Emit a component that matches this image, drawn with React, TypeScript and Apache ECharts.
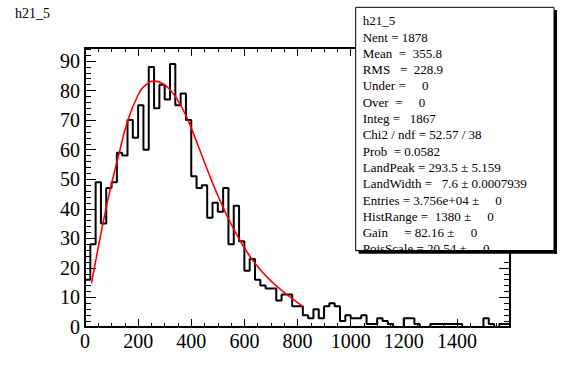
import React, { useEffect, useRef } from "react";
import * as echarts from "echarts";

const binWidth = 20;
const counts = [
  16, 28, 49, 35, 47, 49, 59, 58, 70, 64,
  75, 60, 88, 74, 82, 77, 89, 75, 79, 70,
  51, 47, 48, 37, 42, 39, 47, 28, 41, 29,
  19, 23, 16, 14, 13, 13, 9, 11, 11, 7,
  7, 4, 3, 6, 3, 7, 8, 7, 2, 4,
  3, 3, 4, 1, 1, 3, 2, 1, 0, 0,
  3, 3, 1, 0, 0, 1, 1, 1, 1, 1,
  1, 0, 0, 0, 0, 3, 1, 0, 1, 1,
];

const fitX = [24, 48, 72, 100, 125, 160, 200, 230, 260, 290, 320, 350, 380, 410, 440, 470, 500, 540, 580, 620, 660, 700, 740, 780, 820];
const fitY = [14.8, 26, 37, 48.5, 57.5, 69.5, 78.5, 82, 83.2, 82.5, 80.3, 76.6, 71.5, 65, 58, 51, 44.5, 36.6, 29.8, 24, 19.4, 15.6, 12.4, 9.6, 7];

const xMin = 0;
const xMax = 1600;
const xInterval = 200;
const yMin = 0;
const yMax = 94.4;
const yInterval = 10;

const title = "h21_5";
const statsLines = [
  "h21_5",
  "Nent = 1878",
  "Mean  =  355.8",
  "RMS   =  228.9",
  "Under =     0",
  "Over  =     0",
  "Integ =   1867",
  "Chi2 / ndf = 52.57 / 38",
  "Prob  = 0.0582",
  "LandPeak = 293.5 ± 5.159",
  "LandWidth =   7.6 ± 0.0007939",
  "Entries = 3.756e+04 ±     0",
  "HistRange =  1380 ±     0",
  "Gain     = 82.16 ±     0",
  "PoisScale = 20.54 ±     0",
];

const FONT = "Liberation Serif";

function nb(s: string) {
  return s.replace(/ /g, "\u00A0");
}

export default function App() {
  const ref = useRef<HTMLDivElement>(null);
  useEffect(() => {
    if (!ref.current) return;
    const chart = echarts.init(ref.current, null, { renderer: "svg" });

    const histData: number[][] = [[0, 0]];
    counts.forEach((c, i) => histData.push([(i + 1) * binWidth, c]));
    histData.push([counts.length * binWidth, 0]);
    const fitData = fitX.map((x, i) => [x, fitY[i]]);

    const axisLine = { show: true, onZero: false, lineStyle: { color: "#000", width: 2 } };

    const mkX = (pos: "bottom" | "top", labels: boolean) => ({
      type: "value",
      min: xMin,
      max: xMax,
      interval: xInterval,
      position: pos,
      axisLine,
      axisTick: { show: true, inside: true, length: 8, lineStyle: { color: "#000", width: 1 } },
      minorTick: { show: true, splitNumber: 4, length: 4, lineStyle: { color: "#000", width: 1 } },
      splitLine: { show: false },
      axisLabel: {
        show: labels,
        color: "#000",
        fontFamily: FONT,
        fontSize: 20,
        margin: 4,
        showMaxLabel: false,
        formatter: (v: number) => String(v),
      },
    });
    const mkY = (pos: "left" | "right", labels: boolean) => ({
      type: "value",
      min: yMin,
      max: yMax,
      interval: yInterval,
      position: pos,
      axisLine,
      axisTick: { show: true, inside: true, length: 11, lineStyle: { color: "#000", width: 1 } },
      minorTick: { show: true, splitNumber: 5, length: 6, lineStyle: { color: "#000", width: 1 } },
      splitLine: { show: false },
      axisLabel: {
        show: labels,
        color: "#000",
        fontFamily: FONT,
        fontSize: 20,
        margin: 5,
        showMaxLabel: false,
        formatter: (v: number) => String(v),
      },
    });

    const boxL = 355.7;
    const boxT = 7.3;
    const boxR = 554;
    const boxB = 250.7;
    const sh = 3;
    const lineTop = 20.7;
    const lineStep = 16.3;

    const graphic: any[] = [
      {
        type: "text",
        x: 15,
        y: 13,
        z: 100,
        style: { text: title, fontFamily: FONT, fontSize: 14, fill: "#000", verticalAlign: "middle", align: "left" },
      },
      {
        type: "rect",
        z: 100,
        shape: { x: boxL + sh, y: boxT + sh, width: boxR - boxL, height: boxB - boxT },
        style: { fill: "#000" },
      },
      {
        type: "rect",
        z: 101,
        shape: { x: boxL, y: boxT, width: boxR - boxL, height: boxB - boxT },
        style: { fill: "#fff", stroke: "#000", lineWidth: 1 },
      },
    ];
    statsLines.forEach((s, i) => {
      graphic.push({
        type: "text",
        x: 362.7,
        y: lineTop + i * lineStep,
        z: 102,
        style: { text: nb(s), fontFamily: FONT, fontSize: 13, fill: "#000", verticalAlign: "middle", align: "left" },
      });
    });
    // clip the last text line at the box bottom
    graphic.push({
      type: "rect",
      z: 103,
      shape: { x: boxL + 0.5, y: boxB + 0.5, width: 509 - boxL - 0.5, height: 7 },
      style: { fill: "#fff" },
    });
    graphic.push({
      type: "rect",
      z: 103,
      shape: { x: 512, y: boxB + 0.5, width: boxR - 512, height: 7 },
      style: { fill: "#fff" },
    });
    graphic.push({
      type: "rect",
      z: 104,
      shape: { x: boxL + sh, y: boxB, width: boxR - boxL, height: sh },
      style: { fill: "#000" },
    });
    graphic.push({
      type: "rect",
      z: 104,
      shape: { x: boxR, y: boxT + sh, width: sh, height: boxB - boxT },
      style: { fill: "#000" },
    });
    graphic.push({
      type: "line",
      z: 104,
      shape: { x1: boxL, y1: boxB, x2: boxR, y2: boxB },
      style: { stroke: "#000", lineWidth: 1 },
    });

    chart.setOption({
      animation: false,
      backgroundColor: "#fff",
      grid: { left: 85, right: 57, top: 48, bottom: 57, containLabel: false },
      xAxis: [mkX("bottom", true), mkX("top", false)],
      yAxis: [mkY("left", true), mkY("right", false)],
      series: [
        {
          type: "line",
          xAxisIndex: 0,
          yAxisIndex: 0,
          data: histData,
          step: "start",
          symbol: "none",
          lineStyle: { color: "#000", width: 2 },
          z: 3,
        },
        {
          type: "line",
          xAxisIndex: 0,
          yAxisIndex: 0,
          data: fitData,
          smooth: 0.5,
          symbol: "none",
          lineStyle: { color: "#ff0000", width: 1.6 },
          z: 4,
        },
      ],
      graphic,
    });
    return () => chart.dispose();
  }, []);

  return (
    <div
      ref={ref}
      style={{ position: "fixed", left: 0, top: 0, width: 567, height: 384, background: "#fff" }}
    />
  );
}
